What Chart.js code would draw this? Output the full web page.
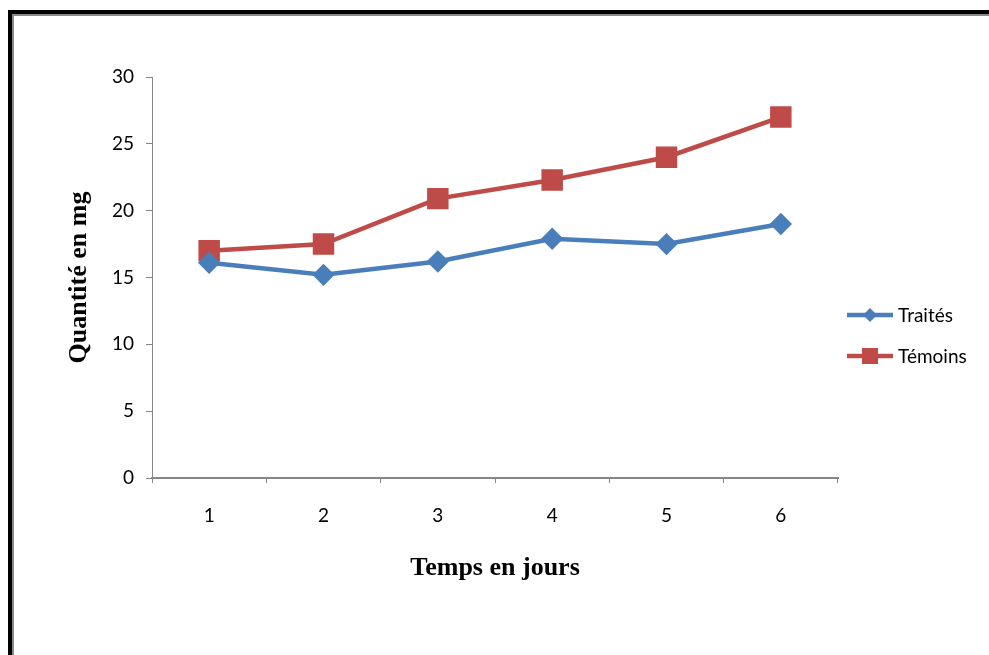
<!DOCTYPE html>
<html>
<head>
<meta charset="utf-8">
<script src="https://cdn.jsdelivr.net/npm/chart.js@4/dist/chart.umd.min.js"></script>
<style>
  html, body { margin: 0; padding: 0; background: #fff; }
  #wrap { width: 989px; height: 655px; position: relative; }
</style>
</head>
<body>
<div id="wrap"><canvas id="chart" width="989" height="655"></canvas></div>
<script>
// données
const jours = ['1', '2', '3', '4', '5', '6'];
const traites = [16.1, 15.2, 16.2, 17.9, 17.5, 19.0];
const temoins = [17.0, 17.5, 20.9, 22.3, 24.0, 27.0];
const yTicks = [0, 5, 10, 15, 20, 25, 30];

const bleu = '#4A7EBB';
const rouge = '#BE4B48';
const gris = '#868686';

// cadre noir en haut et à gauche
const cadre = {
    id: 'cadre',
    beforeDraw(chart) {
        const ctx = chart.ctx;
        ctx.save();
        ctx.fillStyle = '#fff';
        ctx.fillRect(0, 0, chart.width, chart.height);
        ctx.fillStyle = '#000';
        ctx.fillRect(8, 10, chart.width - 8, 4);
        ctx.fillRect(8, 10, 4, chart.height - 10);
        ctx.fillStyle = '#8a8a8a';
        ctx.fillRect(12, 14, chart.width - 12, 2);
        ctx.fillRect(12, 14, 2, chart.height - 14);
        ctx.restore();
    }
};

// légende à droite : trait + marqueur
const legende = {
    id: 'legende',
    afterDraw(chart) {
        const ctx = chart.ctx;
        const area = chart.chartArea;
        const x0 = area.right + 9;
        chart.data.datasets.forEach((ds, i) => {
            const y = area.top + 238 + i * 41;
            ctx.save();
            ctx.strokeStyle = ds.borderColor;
            ctx.lineWidth = ds.borderWidth;
            ctx.beginPath();
            ctx.moveTo(x0, y);
            ctx.lineTo(x0 + 46, y);
            ctx.stroke();
            ctx.fillStyle = ds.borderColor;
            const cx = x0 + 23;
            if (ds.pointStyle === 'rectRot') {
                ctx.beginPath();
                ctx.moveTo(cx, y - 7);
                ctx.lineTo(cx + 7, y);
                ctx.lineTo(cx, y + 7);
                ctx.lineTo(cx - 7, y);
                ctx.closePath();
                ctx.fill();
            } else {
                ctx.fillRect(cx - 8, y - 8, 16, 16);
            }
            ctx.fillStyle = '#000';
            ctx.font = '19px Lato';
            ctx.textBaseline = 'middle';
            ctx.textAlign = 'left';
            ctx.fillText(ds.label, x0 + 51, y + 1);
            ctx.restore();
        });
    }
};

new Chart(document.getElementById('chart'), {
    type: 'line',
    data: {
        labels: jours,
        datasets: [
            {
                label: 'Traités',
                data: traites,
                borderColor: bleu,
                backgroundColor: bleu,
                borderWidth: 4.5,
                pointStyle: 'rectRot',
                pointRadius: 8,
                pointHoverRadius: 8,
                tension: 0
            },
            {
                label: 'Témoins',
                data: temoins,
                borderColor: rouge,
                backgroundColor: rouge,
                borderWidth: 4.5,
                pointStyle: 'rect',
                pointRadius: 12,
                pointHoverRadius: 12,
                tension: 0
            }
        ]
    },
    options: {
        responsive: false,
        animation: false,
        devicePixelRatio: 1,
        layout: { padding: { left: 64, top: 77, right: 151, bottom: 71 } },
        plugins: {
            legend: { display: false },
            tooltip: { enabled: false }
        },
        scales: {
            x: {
                offset: true,
                afterFit: s => { s.height = 106; },
                grid: {
                    offset: true,
                    drawOnChartArea: false,
                    drawTicks: true,
                    tickLength: 5,
                    color: gris,
                    tickColor: gris
                },
                border: { color: gris, width: 2 },
                ticks: {
                    color: '#000',
                    padding: 21,
                    font: { family: 'Lato', size: 19 }
                },
                title: {
                    display: true,
                    text: 'Temps en jours',
                    color: '#000',
                    padding: 0,
                    font: { family: 'Liberation Serif', size: 26, weight: 'bold' }
                }
            },
            y: {
                min: 0,
                max: 30,
                afterFit: s => { s.width = 88; },
                afterBuildTicks: s => { s.ticks = yTicks.map(v => ({ value: v })); },
                grid: {
                    drawOnChartArea: false,
                    drawTicks: true,
                    tickLength: 6,
                    color: gris,
                    tickColor: gris
                },
                border: { color: gris, width: 1 },
                ticks: {
                    color: '#000',
                    padding: 12,
                    font: { family: 'Lato', size: 19 }
                },
                title: {
                    display: true,
                    text: 'Quantité en mg',
                    color: '#000',
                    padding: 0,
                    font: { family: 'Liberation Serif', size: 26, weight: 'bold' }
                }
            }
        }
    },
    plugins: [cadre, legende]
});
</script>
</body>
</html>
